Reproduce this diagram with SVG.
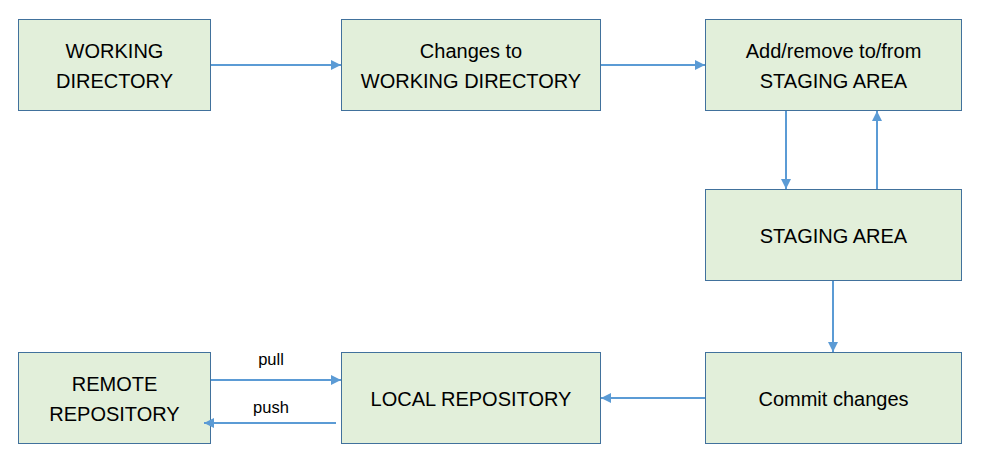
<svg xmlns="http://www.w3.org/2000/svg" width="982" height="463" viewBox="0 0 982 463">
<style>
.box{fill:#e2efda;stroke:#41719c;stroke-width:1}
.t{font-family:"Liberation Sans",Arial,sans-serif;font-size:20px;fill:#000;text-anchor:middle}
.s{font-family:"Liberation Sans",Arial,sans-serif;font-size:16.5px;fill:#000;text-anchor:middle}
.c{stroke:#5b9bd5;stroke-width:2;fill:none;marker-end:url(#ah)}
</style>
<defs>
<marker id="ah" viewBox="0 0 10 10" refX="10" refY="5" markerWidth="5" markerHeight="5" orient="auto" markerUnits="strokeWidth">
<path d="M0,0 L10,5 L0,10 z" fill="#5b9bd5"/>
</marker>
</defs>
<rect width="982" height="463" fill="#fff"/>
<g id="wd"><rect class="box" x="18.5" y="19.5" width="192" height="91"/><text class="t" x="114.5" y="58">WORKING</text><text class="t" x="114.5" y="88">DIRECTORY</text></g>
<g id="chg"><rect class="box" x="341.5" y="19.5" width="259" height="91"/><text class="t" x="471" y="58">Changes to</text><text class="t" x="471" y="88">WORKING DIRECTORY</text></g>
<g id="add"><rect class="box" x="705.5" y="19.5" width="256" height="91"/><text class="t" x="833.5" y="58">Add/remove to/from</text><text class="t" x="833.5" y="88">STAGING AREA</text></g>
<g id="stg"><rect class="box" x="705.5" y="189.5" width="256" height="91"/><text class="t" x="833.5" y="243">STAGING AREA</text></g>
<g id="commit"><rect class="box" x="705.5" y="352.5" width="256" height="91"/><text class="t" x="833.5" y="406">Commit changes</text></g>
<g id="local"><rect class="box" x="341.5" y="352.5" width="259" height="91"/><text class="t" x="471" y="406">LOCAL REPOSITORY</text></g>
<g id="remote"><rect class="box" x="18.5" y="352.5" width="192" height="91"/><text class="t" x="114.5" y="391">REMOTE</text><text class="t" x="114.5" y="421">REPOSITORY</text></g>
<g id="connectors">
<line class="c" x1="211" y1="65" x2="341" y2="65"/>
<line class="c" x1="601" y1="65" x2="705" y2="65"/>
<line class="c" x1="786" y1="111" x2="786" y2="189"/>
<line class="c" x1="877" y1="189" x2="877" y2="111"/>
<line class="c" x1="833" y1="281" x2="833" y2="352"/>
<line class="c" x1="705" y1="398" x2="601" y2="398"/>
<line class="c" x1="211" y1="380" x2="341" y2="380"/>
<line class="c" x1="336" y1="423" x2="204" y2="423"/>
<text class="s" x="271" y="365">pull</text>
<text class="s" x="271" y="413">push</text>
</g>
</svg>
